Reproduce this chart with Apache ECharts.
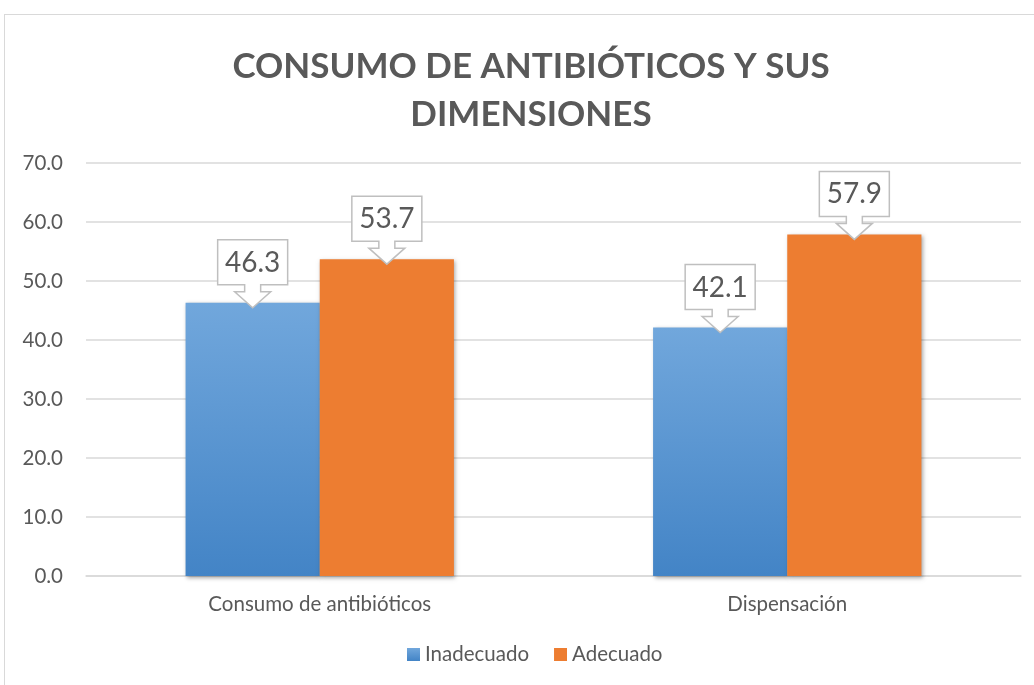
<!DOCTYPE html>
<html>
<head>
<meta charset="utf-8">
<script src="https://cdn.jsdelivr.net/npm/echarts@6/dist/echarts.min.js"></script>
<style>
  html, body { margin: 0; padding: 0; background: #fff; }
  #frame { position: absolute; left: 4px; top: 14px; width: 1200px; height: 800px; border: 1px solid #d9d9d9; }
  #chart { position: absolute; left: 0; top: 0; width: 1034px; height: 685px; }
</style>
</head>
<body>
<div id="frame"></div>
<div id="chart"></div>
<script>
const categories = ['Consumo de antibióticos', 'Dispensación']
const inadecuado = [46.3, 42.1]
const adecuado = [53.7, 57.9]
const seriesNames = ['Inadecuado', 'Adecuado']

const FONT = 'Lato, "Open Sans", sans-serif'
const GAP = 0.426

// 标注框（带向下箭头）
function callout(seriesIdx) {
  return function (params, api) {
    const pt = api.coord([api.value(0), api.value(1)])
    const band = api.size([1, 0])[0]
    const barW = band * (1 - GAP) / 2
    const cx = pt[0] + (seriesIdx === 0 ? -barW / 2 : barW / 2)
    const tip = pt[1] + 5
    const hb = tip - 23
    const top = hb - 45
    const pts = [
      [cx - 35, top], [cx + 35, top], [cx + 35, hb], [cx + 8, hb], [cx + 8, hb + 7],
      [cx + 18, hb + 7], [cx, tip], [cx - 18, hb + 7], [cx - 8, hb + 7], [cx - 8, hb], [cx - 35, hb]
    ]
    return {
      type: 'group',
      children: [
        { type: 'polygon', shape: { points: pts }, style: { fill: '#fff', stroke: '#bfbfbf', lineWidth: 1.5 } },
        { type: 'text', style: { text: api.value(1).toFixed(1), x: cx, y: top + 23, align: 'center', verticalAlign: 'middle', fontSize: 28, fontFamily: FONT, fill: '#595959' } }
      ]
    }
  }
}

const chart = echarts.init(document.getElementById('chart'))
chart.setOption({
  animation: false,
  title: {
    text: 'CONSUMO DE ANTIBIÓTICOS Y SUS\nDIMENSIONES',
    left: 526,
    top: 38,
    textAlign: 'center',
    textStyle: { fontSize: 35, fontWeight: 'bold', color: '#595959', fontFamily: FONT, lineHeight: 48 }
  },
  legend: {
    data: seriesNames,
    bottom: 15,
    left: 402,
    itemWidth: 13,
    itemHeight: 13,
    itemGap: 25,
    icon: 'rect',
    textStyle: { fontSize: 20.5, color: '#595959', fontFamily: FONT }
  },
  grid: { left: 86, right: 13, top: 163, bottom: 109, outerBoundsMode: 'none' },
  xAxis: {
    type: 'category',
    data: categories,
    axisLine: { lineStyle: { color: '#d9d9d9', width: 1.5 } },
    axisTick: { show: false },
    axisLabel: { fontSize: 20.5, color: '#595959', fontFamily: FONT, margin: 18 }
  },
  yAxis: {
    type: 'value',
    min: 0,
    max: 70,
    interval: 10,
    axisLine: { show: false },
    axisTick: { show: false },
    splitLine: { lineStyle: { color: '#d9d9d9', width: 1.5 } },
    axisLabel: { fontSize: 20.5, color: '#595959', fontFamily: FONT, margin: 23, formatter: v => v.toFixed(1) }
  },
  series: [
    {
      name: seriesNames[0],
      type: 'bar',
      data: inadecuado,
      barGap: '0%',
      barCategoryGap: (GAP * 100) + '%',
      itemStyle: {
        color: new echarts.graphic.LinearGradient(0, 0, 0, 1, [
          { offset: 0, color: '#71a7dc' },
          { offset: 1, color: '#4384c6' }
        ]),
        shadowBlur: 4, shadowColor: 'rgba(0,0,0,0.35)', shadowOffsetX: 1.5, shadowOffsetY: 1.5
      }
    },
    {
      name: seriesNames[1],
      type: 'bar',
      data: adecuado,
      itemStyle: {
        color: '#ed7d31',
        shadowBlur: 4, shadowColor: 'rgba(0,0,0,0.35)', shadowOffsetX: 1.5, shadowOffsetY: 1.5
      }
    },
    {
      name: 'lbl0', type: 'custom', z: 10,
      data: inadecuado.map((v, i) => [i, v]),
      encode: { x: 0, y: 1 },
      renderItem: callout(0)
    },
    {
      name: 'lbl1', type: 'custom', z: 10,
      data: adecuado.map((v, i) => [i, v]),
      encode: { x: 0, y: 1 },
      renderItem: callout(1)
    }
  ]
})
</script>
</body>
</html>
